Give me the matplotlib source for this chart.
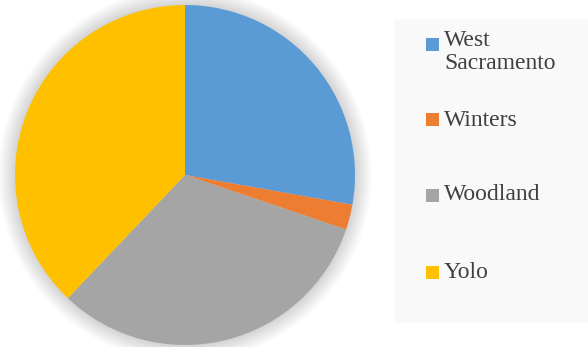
import matplotlib.pyplot as plt
from matplotlib.patches import Circle, Rectangle

plt.rcParams['font.family'] = ['Liberation Serif', 'DejaVu Serif']

labels = ["West\nSacramento", "Winters", "Woodland", "Yolo"]
values = [27.8, 2.4, 31.9, 37.9]
colors = ["#5b9bd5", "#ed7d31", "#a5a5a5", "#ffc000"]

fig = plt.figure(figsize=(5.88, 3.47), dpi=100)
fig.patch.set_facecolor("white")

# pie axes: center ~ (185,175) px, radius ~170 px
W, H = 588.0, 347.0
r = 170.0
ax = fig.add_axes([(185 - r) / W, (H - 175 - r) / H, 2 * r / W, 2 * r / H])

ax.pie(values, colors=colors, startangle=90, counterclock=False, radius=1.0,
       wedgeprops=dict(linewidth=0, zorder=2))

# soft glow around the pie
for i in range(14):
    ax.add_patch(Circle((0, 0), 1.0 + 0.007 * (14 - i), color="black",
                        alpha=0.012, lw=0, zorder=0, clip_on=False))

ax.set_xlim(-1, 1)
ax.set_ylim(-1, 1)
ax.set_aspect("equal")
ax.axis("off")

# legend panel
fig.patches.append(Rectangle((394 / W, (H - 323) / H), (588 - 394) / W, (323 - 19) / H,
                             transform=fig.transFigure, facecolor="#f9f9f9",
                             edgecolor="none", zorder=0))
ys = [44, 120, 195, 272]
for lab, c, y in zip(labels, colors, ys):
    fig.patches.append(Rectangle((426 / W, (H - y - 6.5) / H), 13 / W, 13 / H,
                                 transform=fig.transFigure, facecolor=c,
                                 edgecolor="none", zorder=2))
    if "\n" in lab:
        fig.text(444 / W, (H - y + 14) / H, lab, fontsize=17,
                 color="#404040", va="top", linespacing=1.15)
    else:
        fig.text(444 / W, (H - y) / H, lab, fontsize=17,
                 color="#404040", va="center")

fig.savefig("out.png", dpi=100)
